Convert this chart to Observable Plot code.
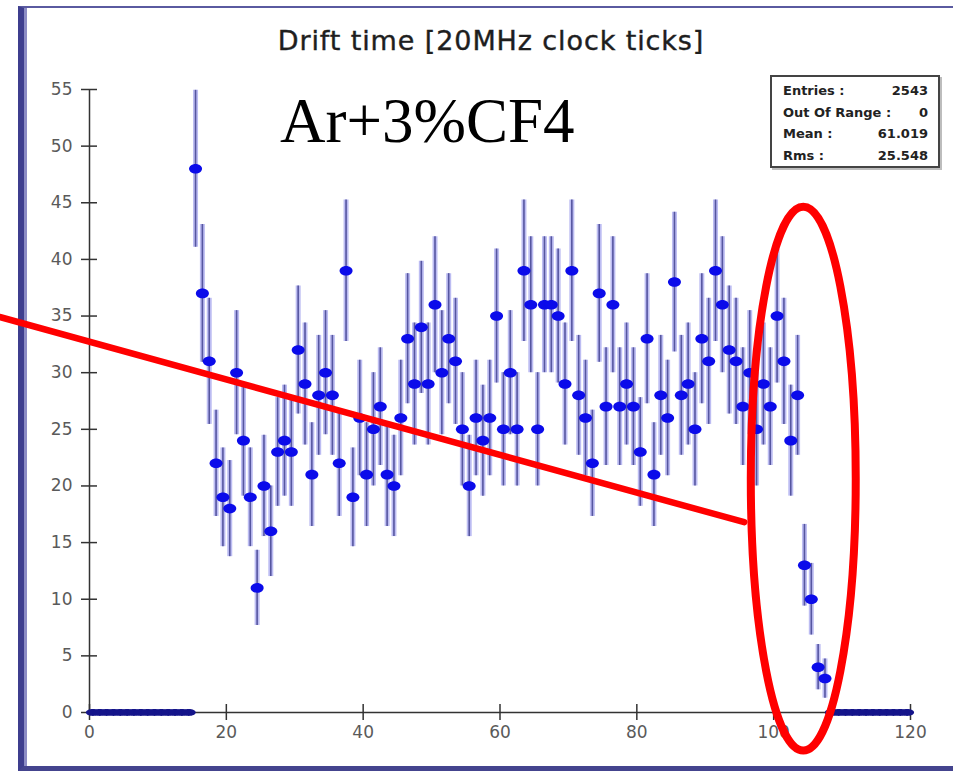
<!DOCTYPE html>
<html>
<head>
<meta charset="utf-8">
<script src="https://cdn.jsdelivr.net/npm/d3@7"></script>
<script src="https://cdn.jsdelivr.net/npm/@observablehq/plot@0.6"></script>
<style>
  html, body { margin: 0; padding: 0; background: #fff; }
  #wrap { position: relative; width: 953px; height: 774px; overflow: hidden; background: #fff; }
  #frame { position: absolute; left: 18px; top: 6px; width: 960px; height: 758px;
           border-left: 6px solid #3e3e8e; border-top: 2px solid #5a5aa0; border-bottom: 5px solid #44448e;
           box-shadow: inset 3px 0 0 #8c8cc4; }
  #chart { position: absolute; left: 0; top: 0; }
  #title { position: absolute; left: 0; width: 982px; top: 25px; text-align: center;
           font-family: "DejaVu Sans", sans-serif; font-size: 27px; letter-spacing: 0.9px; color: #1e1e1e;
           -webkit-text-stroke: 0.4px #1e1e1e; white-space: nowrap; }
  #gas { position: absolute; left: 280px; top: 90px; font-family: "Liberation Serif", "Times New Roman", serif;
         font-size: 63px; color: #000; line-height: 1; white-space: nowrap; }
  #stats { position: absolute; left: 770px; top: 75px; width: 170px; height: 93px; box-sizing: border-box;
           border: 2px solid #444; box-shadow: 2px 2px 0 #bdbdbd; background: #fff; padding: 3px 10px 0 11px;
           font-family: "DejaVu Sans", sans-serif; font-weight: bold; font-size: 13px; color: #222; }
  #stats .row { display: flex; justify-content: space-between; height: 21.5px; line-height: 21.5px; }
</style>
</head>
<body>
<div id="wrap">
  <div id="frame"></div>
  <div id="chart"></div>
  <div id="title"></div>
  <div id="gas"></div>
  <div id="stats"></div>
</div>
<script>
// ---- data ----
const titleText = "Drift time [20MHz clock ticks]";
const gasLabel = "Ar+3%CF4";
const statsLabels = ["Entries :", "Out Of Range :", "Mean :", "Rms :"];
const statsValues = ["2543", "0", "61.019", "25.548"];

const firstFilledBin = 15;
const counts = [48,37,31,22,19,18,30,24,19,11,
                20,16,23,24,23,32,29,21,28,30,
                28,22,39,19,26,21,25,27,21,20,
                26,33,29,34,29,36,30,33,31,25,
                20,26,24,26,35,25,30,25,39,36,
                25,36,36,35,29,39,28,26,22,37,
                27,36,27,29,27,23,33,21,28,26,
                38,28,29,25,33,31,39,36,32,31,
                27,30,25,29,27,35,31,24,28,13,
                10,4,3];
const emptyBins = [0,1,2,3,4,5,6,7,8,9,10,11,12,13,14,
                   108,109,110,111,112,113,114,115,116,117,118,119];
const xTicks = [0,20,40,60,80,100,120];
const yTicks = [0,5,10,15,20,25,30,35,40,45,50,55];

// hand-drawn annotations (data units)
const slashLine = [{x: -13.0, y: 34.9}, {x: 95.7, y: 16.8}];
const ringCenter = [104.4, 20.6];
const ringRadii = [7.67, 24.0];

// ---- build ----
const points = counts.map((n, i) => ({x: firstFilledBin + i + 0.5, n}));
const empties = emptyBins.map(b => ({x: b + 0.5, n: 0}));

function ellipseSymbol(rx, ry) {
  const k = 0.5523;
  return {
    draw(ctx) {
      ctx.moveTo(rx, 0);
      ctx.bezierCurveTo(rx, ry * k, rx * k, ry, 0, ry);
      ctx.bezierCurveTo(-rx * k, ry, -rx, ry * k, -rx, 0);
      ctx.bezierCurveTo(-rx, -ry * k, -rx * k, -ry, 0, -ry);
      ctx.bezierCurveTo(rx * k, -ry, rx, -ry * k, rx, 0);
      ctx.closePath();
    }
  };
}

const chart = Plot.plot({
  width: 953,
  height: 774,
  marginLeft: 89,
  marginRight: 43,
  marginTop: 89,
  marginBottom: 62,
  x: {domain: [0, 120]},
  y: {domain: [0, 55]},
  style: {background: "transparent", fontFamily: "DejaVu Sans, sans-serif", overflow: "visible"},
  marks: [
    Plot.axisX({ticks: xTicks, tickSize: 0, tickPadding: 13, fontSize: 17, color: "#5a5a5a", label: null}),
    Plot.axisY({ticks: yTicks, tickSize: 0, tickPadding: 17, fontSize: 17, color: "#5a5a5a", label: null}),
    Plot.ruleY([0], {stroke: "#333", strokeWidth: 1.5}),
    Plot.ruleX([0], {stroke: "#333", strokeWidth: 1.5}),
    Plot.ruleX(xTicks, {x: d => d, y1: 0, y2: 0, insetTop: -8, insetBottom: -8, stroke: "#333", strokeWidth: 1.5}),
    Plot.ruleY(yTicks, {y: d => d, x1: 0, x2: 0, insetLeft: -8, insetRight: -8, stroke: "#333", strokeWidth: 1.5}),
    Plot.ruleX(points, {x: "x", y1: d => d.n - Math.sqrt(d.n), y2: d => d.n + Math.sqrt(d.n), stroke: "#bcbcf2", strokeWidth: 5}),
    Plot.ruleX(points, {x: "x", y1: d => d.n - Math.sqrt(d.n), y2: d => d.n + Math.sqrt(d.n), stroke: "#5656a0", strokeWidth: 1.6}),
    Plot.dot(empties, {x: "x", y: "n", symbol: ellipseSymbol(7, 3.4), fill: "#14148a", stroke: "none"}),
    Plot.dot(points, {x: "x", y: "n", symbol: ellipseSymbol(6.5, 4.8), fill: "#0b0bea", stroke: "none"}),
    Plot.line(slashLine, {x: "x", y: "y", stroke: "#ff0000", strokeWidth: 6.5})
  ]
});

// red ring annotation through the plot scales
const sx = chart.scale("x"), sy = chart.scale("y");
const cx = sx.apply(ringCenter[0]), cy = sy.apply(ringCenter[1]);
const rx = sx.apply(ringCenter[0] + ringRadii[0]) - cx;
const ry = cy - sy.apply(ringCenter[1] + ringRadii[1]);
d3.select(chart).append("ellipse")
  .attr("cx", cx).attr("cy", cy).attr("rx", rx).attr("ry", ry)
  .attr("fill", "none").attr("stroke", "#ff0000").attr("stroke-width", 8);

document.getElementById("chart").appendChild(chart);
document.getElementById("title").textContent = titleText;
document.getElementById("gas").textContent = gasLabel;
const stats = document.getElementById("stats");
statsLabels.forEach((l, i) => {
  const row = document.createElement("div");
  row.className = "row";
  const a = document.createElement("span"); a.textContent = l;
  const b = document.createElement("span"); b.textContent = statsValues[i];
  row.appendChild(a); row.appendChild(b);
  stats.appendChild(row);
});
</script>
</body>
</html>
